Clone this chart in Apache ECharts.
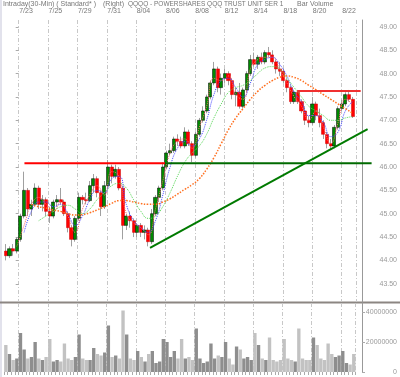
<!DOCTYPE html>
<html>
<head>
<meta charset="utf-8">
<script src="https://cdn.jsdelivr.net/npm/echarts@6/dist/echarts.min.js"></script>
<style>
  html, body { margin: 0; padding: 0; background: #fff; }
  #chart { width: 400px; height: 377px; }
</style>
</head>
<body>
<div id="chart"></div>
<script>
// trading days, 4 bars per day
var days = ['7/22','7/23','7/24','7/25','7/28','7/29','7/30','7/31','8/01','8/04','8/05','8/06',
  '8/07','8/08','8/11','8/12','8/13','8/14','8/15','8/18','8/19','8/20','8/21','8/22']

var opens = [44.20,44.10,44.25,44.20, 44.45,44.95,45.50,45.10, 45.20,45.55,45.20,45.30, 45.05,44.95,45.25,45.30,
  45.25,45.00,44.70,44.45, 44.90,45.35,45.30,45.28, 45.60,45.75,45.45,45.15, 45.60,46.00,45.80,45.95,
  45.55,44.75,44.95,44.85, 44.60,44.75,44.60,44.65, 44.40,45.00,45.35,45.55, 46.00,46.30,46.35,46.60,
  46.55,46.45,46.75,46.50, 46.25,46.70,47.00,47.20, 47.50,47.80,48.10,47.70, 47.90,48.00,47.85,47.55,
  47.60,47.30,47.65,48.00, 48.30,48.20,48.35,48.25, 48.45,48.40,48.25,48.10, 48.05,47.85,47.70,47.40,
  47.60,47.40,47.20,47.00, 46.95,47.35,47.10,46.95, 46.70,46.50,46.45,46.85, 47.25,47.35,47.55,47.45]
var closes = [44.10,44.25,44.20,44.45, 44.95,45.50,45.10,45.20, 45.55,45.20,45.30,45.05, 44.95,45.25,45.30,45.25,
  45.00,44.70,44.45,44.90, 45.35,45.30,45.28,45.60, 45.75,45.45,45.15,45.60, 46.00,45.80,45.95,45.55,
  44.75,44.95,44.85,44.60, 44.75,44.60,44.65,44.40, 45.00,45.35,45.55,46.00, 46.30,46.35,46.60,46.55,
  46.45,46.75,46.50,46.25, 46.70,47.00,47.20,47.50, 47.80,48.10,47.70,47.90, 48.00,47.85,47.55,47.60,
  47.30,47.65,48.00,48.30, 48.20,48.35,48.25,48.45, 48.40,48.25,48.10,48.05, 47.85,47.70,47.40,47.60,
  47.40,47.20,47.00,46.95, 47.35,47.10,46.95,46.70, 46.50,46.45,46.85,47.25, 47.35,47.55,47.45,47.08]
var lows = [44.00,44.05,44.10,44.15, 44.40,44.90,44.95,44.95, 45.15,45.10,45.05,44.95, 44.80,44.90,45.15,45.20,
  44.95,44.60,44.30,44.40, 44.85,45.20,45.20,45.25, 45.45,45.35,44.95,45.10, 45.55,45.65,45.75,45.50,
  44.45,44.65,44.70,44.50, 44.50,44.50,44.45,44.30, 44.35,44.95,45.25,45.50, 45.95,46.25,46.30,46.45,
  46.40,46.40,46.45,46.10, 46.20,46.65,46.95,47.15, 47.45,47.75,47.60,47.55, 47.80,47.75,47.45,47.30,
  47.25,47.25,47.60,47.95, 48.15,48.10,48.20,48.20, 48.35,48.20,48.00,47.95, 47.80,47.60,47.35,47.35,
  47.35,47.15,46.90,46.85, 46.90,47.00,46.85,46.60, 46.40,46.36,46.40,46.80, 47.20,47.30,47.40,47.05]
var highs = [44.35,44.30,44.35,44.50, 45.00,45.90,45.55,45.30, 45.65,45.60,45.40,45.35, 45.15,45.30,45.40,45.55,
  45.30,45.05,44.75,44.95, 45.45,45.40,45.45,45.70, 45.85,45.80,45.50,45.70, 46.15,46.05,46.05,46.00,
  45.60,45.00,45.05,44.90, 44.80,44.80,44.75,44.70, 45.10,45.40,45.60,46.10, 46.35,46.50,46.65,46.70,
  46.65,46.85,46.80,46.55, 46.75,47.05,47.30,47.55, 47.85,48.25,48.15,48.00, 48.10,48.05,47.90,47.70,
  47.80,47.70,48.05,48.40, 48.45,48.40,48.45,48.50, 48.57,48.50,48.30,48.25, 48.10,47.90,47.75,47.65,
  47.65,47.45,47.30,47.10, 47.50,47.40,47.25,47.00, 46.75,46.60,46.90,47.30, 47.45,47.60,47.65,47.50]
// volume in millions
var volumes = [18,12,8,9, 26,15,9,10, 20,9,8,10, 22,7,8,7, 19,9,8,10, 25,9,8,8, 16,12,11,13, 31,10,11,9,
  41,25,9,8, 14,10,7,12, 14,6,7,22, 20,10,14,9, 22,9,10,8, 29,9,6,7, 19,9,11,10, 20,9,5,17,
  15,9,10,8, 26,18,9,8, 23,8,7,8, 22,9,8,7, 29,9,8,8, 23,18,9,8, 19,12,10,11, 14,6,5,12]

// moving averages, one value every 2 bars (bar 1, 3, 5 ...)
var maRed = [null,44.30,44.75,45.20,45.35,45.20,45.05,45.25,44.95,44.60,45.10,45.40,45.60,45.40,45.90,45.80,
  45.00,44.80,44.70,44.55,45.10,45.70,46.30,46.55,46.60,46.40,46.85,47.30,47.90,47.85,47.95,47.55,
  47.45,48.10,48.30,48.35,48.35,48.10,47.80,47.50,47.30,47.00,47.20,46.85,46.50,46.95,47.45,47.35]
var maBlue = [null,null,44.60,45.05,45.25,45.25,45.15,45.20,45.00,44.75,44.95,45.30,45.50,45.45,45.75,45.80,
  45.20,44.85,44.70,44.60,44.85,45.40,46.00,46.40,46.55,46.45,46.60,47.00,47.55,47.85,47.90,47.70,
  47.50,47.80,48.20,48.30,48.35,48.20,47.95,47.60,47.40,47.10,47.10,46.95,46.65,46.75,47.20,47.40]
var maGreen = [null,null,null,null,44.85,44.95,45.05,45.15,45.18,45.10,45.00,45.10,45.30,45.45,45.60,45.65,
  45.55,45.30,45.05,44.90,44.95,45.15,45.45,45.80,46.10,46.30,46.45,46.70,47.05,47.35,47.60,47.70,
  47.75,47.85,48.00,48.12,48.15,48.10,47.90,47.70,47.50,47.30,47.20,47.10,47.00,47.00,47.05,47.08]
var maOrange = [null,null,null,45.20,45.15,45.12,45.08,45.05,45.00,44.97,44.98,45.02,45.08,45.15,45.22,45.28,
  45.28,45.25,45.22,45.20,45.20,45.25,45.32,45.42,45.52,45.62,45.75,45.95,46.20,46.50,46.80,47.05,
  47.25,47.45,47.62,47.75,47.85,47.92,47.95,47.92,47.85,47.75,47.65,47.55,47.45,47.35,47.25,47.15]

// drawn lines: [bar position, price]
var supportRed = [[5.1, 46.08], [43.6, 46.08]]
var supportGreen = [[43.6, 46.08], [100.2, 46.08]]
var resistRed = [[79.8, 47.63], [97.2, 47.63]]
var trendGreen = [[39.5, 44.27], [99.1, 46.81]]

// header text pieces: text, left, font size
var headerParts = [
  ['Intraday(30-Min) ( Standard* )', 3, 7],
  ['(Right)', 103, 7],
  ['QQQQ - POWERSHARES QQQ TRUST UNIT SER 1', 128, 6.5],
  ['Bar', 297, 7],
  ['Volume', 310, 7]
]

var chartDom = document.getElementById('chart')
var myChart = echarts.init(chartDom)

// price pane has room for 101 bar slots, so drawn lines can run past the last bar
var slots = []
for (var s = 0; s < 101; s++) slots.push(String(s))
var barIdx = closes.map(function (_, i) { return String(i) })
var wickData = opens.map(function (o, i) { return [o, closes[i], lows[i], highs[i]] })
var bodyData = opens.map(function (o, i) {
  return [o, closes[i], Math.min(o, closes[i]), Math.max(o, closes[i])]
})
var volData = volumes.map(function (v, i) {
  return { value: v, itemStyle: { color: closes[i] >= opens[i] ? '#8e8e8e' : '#c2c2c2' } }
})
function maSeries(arr) {
  return arr.map(function (v, k) { return [2 * k + 1, v] })
}

var dayGrid = {
  show: true,
  interval: function (i) { return i % 2 === 1 },
  lineStyle: { color: '#c8c8c8', width: 1, type: [4, 2, 1, 2] }
}
var font = 'Liberation Sans, Arial, sans-serif'
var gridL = 4, gridR = 43.7, axOff = 6.4

function maLine(arr, color, w) {
  return {
    type: 'line', xAxisIndex: 2, yAxisIndex: 1, data: maSeries(arr),
    showSymbol: false, smooth: true, silent: true,
    lineStyle: { color: color, width: w, type: 'dotted' }, z: 4
  }
}
function drawLine(pts, color) {
  return {
    type: 'line', xAxisIndex: 2, yAxisIndex: 1, data: pts,
    showSymbol: false, silent: true, lineStyle: { color: color, width: 2 }, z: 5
  }
}

var option = {
  animation: false,
  backgroundColor: '#fff',
  title: headerParts.map(function (h) {
    return {
      text: h[0], left: h[1], top: 1, padding: 0,
      textStyle: { fontSize: h[2], fontWeight: 'normal', color: '#777', fontFamily: font }
    }
  }),
  graphic: [
    { type: 'rect', shape: { x: 0, y: 0, width: 2, height: 377 }, style: { fill: '#e2e2ec' } },
    { type: 'rect', shape: { x: 0, y: 301.5, width: 400, height: 2 }, style: { fill: '#8c8682' } }
  ],
  grid: [
    { left: gridL, right: gridR, top: 20, bottom: 75 },
    { left: gridL, right: 25.3, top: 3.55, bottom: 69.9 },
    { left: gridL, right: gridR, top: 303, bottom: 5 }
  ],
  xAxis: [
    {
      gridIndex: 0, type: 'category', data: days, position: 'top', boundaryGap: true,
      axisLine: { show: false }, axisTick: { show: false },
      axisLabel: {
        interval: function (i) { return i % 2 === 1 },
        fontSize: 7, color: '#777', margin: 5, fontFamily: font
      },
      splitLine: dayGrid
    },
    { gridIndex: 1, type: 'category', data: slots, show: false },
    { gridIndex: 1, type: 'value', min: -0.5, max: 100.5, show: false },
    {
      gridIndex: 2, type: 'category', data: days, boundaryGap: true,
      axisLine: { show: false }, axisTick: { show: false }, axisLabel: { show: false },
      splitLine: dayGrid
    },
    {
      gridIndex: 2, type: 'category', data: barIdx, position: 'bottom',
      axisLine: { show: false }, axisLabel: { show: false },
      axisTick: { show: true, interval: 0, length: 3, lineStyle: { color: '#aaa' } }
    }
  ],
  yAxis: [
    {
      gridIndex: 0, type: 'value', position: 'right', offset: axOff,
      axisLine: { show: true, lineStyle: { color: '#999' } },
      axisTick: { show: false }, axisLabel: { show: false }, splitLine: { show: false }
    },
    {
      gridIndex: 1, type: 'value', position: 'right', offset: -11.7,
      min: 43, max: 49.5, interval: 0.5,
      axisLine: { show: false },
      axisTick: { show: true, length: 3, lineStyle: { color: '#aaa' } },
      axisLabel: {
        fontSize: 7, color: '#999', align: 'right', margin: 36, fontFamily: font,
        showMinLabel: false, showMaxLabel: false,
        formatter: function (v) { return v.toFixed(2) }
      },
      splitLine: { show: false }
    },
    {
      gridIndex: 2, type: 'value', position: 'right', offset: axOff,
      min: 0, max: 46, interval: 20,
      axisLine: { show: true, lineStyle: { color: '#999' } },
      axisTick: { show: true, length: 3, lineStyle: { color: '#aaa' } },
      axisLabel: {
        fontSize: 7, color: '#999', align: 'right', margin: 35, fontFamily: font,
        showMaxLabel: false,
        formatter: function (v) { return String(v * 1000000) }
      },
      splitLine: { show: false }
    }
  ],
  series: [
    {
      type: 'candlestick', xAxisIndex: 1, yAxisIndex: 1, data: wickData, barWidth: 1,
      itemStyle: { color: '#a0a0a0', color0: '#a0a0a0', borderColor: '#a0a0a0', borderColor0: '#a0a0a0', borderWidth: 1 },
      silent: true, z: 2
    },
    {
      type: 'candlestick', xAxisIndex: 1, yAxisIndex: 1, data: bodyData, barWidth: 3.6,
      itemStyle: { color: '#008a00', color0: '#ff0000', borderColor: '#000', borderColor0: '#d00000', borderWidth: 0.5 },
      silent: true, z: 3,
      markLine: {
        symbol: 'none', silent: true,
        lineStyle: { opacity: 0 },
        label: {
          position: 'end', distance: 7, fontSize: 7, color: '#666', fontFamily: font,
          formatter: function (p) { return p.value.toFixed(2) }
        },
        data: [{ yAxis: closes[closes.length - 1] }]
      }
    },
    maLine(maRed, '#ff6a6a', 1),
    maLine(maBlue, '#4848ff', 1),
    maLine(maGreen, '#5ad85a', 1),
    maLine(maOrange, '#ff7020', 1.5),
    drawLine(supportRed, '#ff0000'),
    drawLine(supportGreen, '#006a00'),
    drawLine(resistRed, '#f03030'),
    drawLine(trendGreen, '#007a00'),
    {
      type: 'bar', xAxisIndex: 4, yAxisIndex: 2, data: volData,
      barCategoryGap: '8%', silent: true
    }
  ]
}

myChart.setOption(option)
window.addEventListener('resize', function () { myChart.resize() })
</script>
</body>
</html>
